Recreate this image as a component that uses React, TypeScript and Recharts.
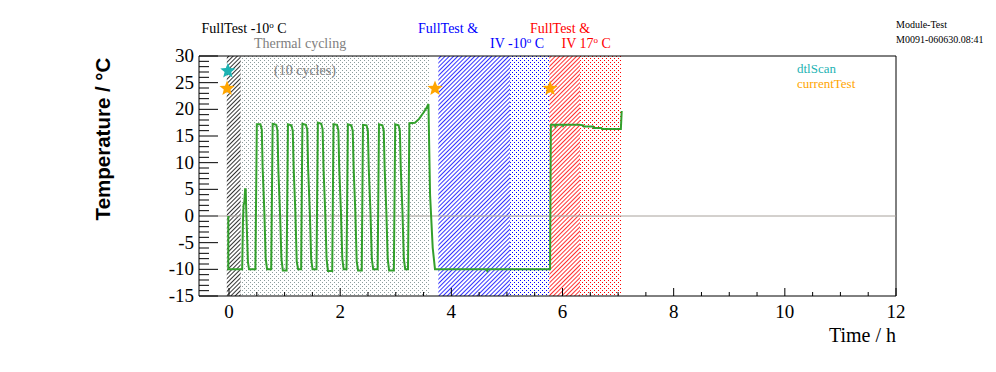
import { ComposedChart, Line, Scatter, XAxis, YAxis, ReferenceArea, ReferenceLine } from "recharts"

// temperature trace, time in hours
const timeH = [
  -0.013, -0.013, 0.237, 0.25, 0.262, 0.275, 0.29, 0.30, 0.31, 0.34, 0.36,
  0.475, 0.50, 0.565, 0.59, 0.605, 0.635, 0.66, 0.685,
  0.759, 0.785, 0.85, 0.872, 0.888, 0.918, 0.943, 0.968,
  1.036, 1.06, 1.122, 1.147, 1.163, 1.193, 1.218, 1.243,
  1.298, 1.32, 1.383, 1.408, 1.423, 1.453, 1.478, 1.503,
  1.574, 1.598, 1.66, 1.684, 1.70, 1.73, 1.755, 1.78,
  1.857, 1.88, 1.943, 1.968, 1.983, 2.013, 2.038, 2.063,
  2.114, 2.138, 2.20, 2.226, 2.242, 2.272, 2.297, 2.322,
  2.388, 2.41, 2.474, 2.498, 2.514, 2.544, 2.569, 2.594,
  2.674, 2.698, 2.76, 2.784, 2.80, 2.83, 2.855, 2.88,
  2.966, 2.99, 3.05, 3.074, 3.09, 3.12, 3.145, 3.17,
  3.22, 3.245, 3.345, 3.42, 3.50, 3.56, 3.588, 3.617, 3.665, 3.706,
  4.63, 4.645, 4.66, 5.776,
  5.79, 5.86, 5.87, 5.885, 6.0, 6.01, 6.025, 6.30, 6.37, 6.38, 6.55, 6.56, 6.70, 6.71, 7.05, 7.065,
]
const tempC = [
  0, -10, -10, -1.3, 2.1, 2.5, 5.0, 5.0, 1.1, -8.6, -10,
  -10, 17.2, 17.2, 16.2, 9, 1, -8, -10,
  -10, 17.3, 17.1, 16.0, 8.5, 0.5, -8, -10.2,
  -10.2, 17.2, 17.0, 16, 9, 1, -8.5, -10,
  -10, 17.3, 17.1, 16.2, 9, 1, -8, -10,
  -10, 17.5, 17.3, 16.3, 9, 1, -8, -10.3,
  -10.3, 17.2, 17.1, 16, 9, 1, -8, -10,
  -10, 17.2, 17.0, 16, 9, 1, -8.5, -10.2,
  -10.2, 17.1, 17.0, 16, 9, 1, -8, -10,
  -10, 17.2, 17.0, 16, 9, 1, -8, -10.2,
  -10.2, 17.2, 17.0, 16, 9, 1, -8, -10,
  -10, 17.4, 17.5, 18.2, 19.4, 20.4, 21.0, 4, -6, -10,
  -10, -10.3, -10, -10,
  17.1, 17.1, 16.8, 17.1, 17.1, 16.9, 17.1, 17.1, 17.0, 16.8, 16.8, 16.5, 16.5, 16.3, 16.3, 19.7,
]

const dtlScanT = [-0.02]
const dtlScanY = [27.2]
const currentTestT = [-0.035, 3.706, 5.776]
const currentTestY = [23.9, 23.9, 23.9]

// test phases (hours)
const phaseStart = [-0.04, 0.21, 3.766, 5.056, 5.763, 6.315]
const phaseEnd = [0.21, 3.6, 5.056, 5.763, 6.315, 7.053]
const phasePattern = ["hatchK", "dotsK", "hatchB", "dotsB", "hatchR", "dotsR"]

const xTicks = [0, 0.5, 1, 1.5, 2, 2.5, 3, 3.5, 4, 4.5, 5, 5.5, 6, 6.5, 7, 7.5, 8, 8.5, 9, 9.5, 10, 10.5, 11, 11.5, 12]
const yTicks = [
  -15, -14, -13, -12, -11, -10, -9, -8, -7, -6, -5, -4, -3, -2, -1, 0, 1, 2, 3, 4, 5, 6, 7, 8, 9, 10,
  11, 12, 13, 14, 15, 16, 17, 18, 19, 20, 21, 22, 23, 24, 25, 26, 27, 28, 29, 30,
]

const trace = timeH.map((t, i) => ({ t, temp: tempC[i] }))
const dtlScan = dtlScanT.map((t, i) => ({ t, temp: dtlScanY[i] }))
const currentTest = currentTestT.map((t, i) => ({ t, temp: currentTestY[i] }))

const serif = "'Liberation Serif', 'Times New Roman', serif"
const CYAN = "#1db3b3"
const ORANGE = "#ffa500"

const star = (color: string) => (props: any) => {
  const { cx, cy } = props
  const pts: string[] = []
  for (let i = 0; i < 10; i++) {
    const r = i % 2 === 0 ? 8 : 3.5
    const a = -Math.PI / 2 + (i * Math.PI) / 5
    pts.push(`${cx + r * Math.cos(a)},${cy + r * Math.sin(a)}`)
  }
  return <polygon points={pts.join(" ")} fill={color} />
}

const renderXTick = (props: any) => {
  const { x, y, payload } = props
  const v = payload.value
  const major = v % 2 === 0
  return (
    <g key={`xt-${v}`}>
      <line x1={x} x2={x} y1={y} y2={y - (major ? 8 : 4)} stroke="#000" />
      {major && (
        <text x={x} y={y + 22} textAnchor="middle" fontSize={19} fontFamily={serif} fill="#000">
          {v}
        </text>
      )}
    </g>
  )
}

const renderYTick = (props: any) => {
  const { x, y, payload } = props
  const v = payload.value
  const major = v % 5 === 0
  return (
    <g key={`yt-${v}`}>
      <line x1={x} x2={x + (major ? 19 : 10)} y1={y} y2={y} stroke="#000" />
      {major && (
        <text x={x - 5} y={y + 6} textAnchor="end" fontSize={19} fontFamily={serif} fill="#000">
          {v}
        </text>
      )}
    </g>
  )
}

const Sup = ({ children }: { children: string }) => (
  <>
    <tspan dy={-5} fontSize={9}>o</tspan>
    <tspan dy={5}>{children}</tspan>
  </>
)

// diagonal stripes made from filled rects
const Hatch = ({ id, color }: { id: string; color: string }) => (
  <pattern id={id} patternUnits="userSpaceOnUse" width={3} height={3} patternTransform="rotate(45)">
    <rect x={0} y={0} width={0.8} height={3} fill={color} />
  </pattern>
)

const Dots = ({ id, color }: { id: string; color: string }) => (
  <pattern id={id} patternUnits="userSpaceOnUse" width={4} height={4}>
    <rect x={0} y={0} width={1} height={1} fill={color} />
    <rect x={2} y={2} width={1} height={1} fill={color} />
  </pattern>
)

export default function App() {
  return (
    <div style={{ position: "relative", width: 996, height: 372, background: "#fff" }}>
      <style>{`body{margin:0}`}</style>
      <svg width={10} height={10} style={{ position: "absolute", left: 0, top: 0 }}>
        <defs>
          <Hatch id="hatchK" color="#000000" />
          <Hatch id="hatchB" color="#0000ff" />
          <Hatch id="hatchR" color="#ff0000" />
          <Dots id="dotsK" color="#8c9c9c" />
          <Dots id="dotsB" color="#0000ff" />
          <Dots id="dotsR" color="#ff0000" />
        </defs>
      </svg>

      <ComposedChart
        width={996}
        height={372}
        margin={{ top: 56, right: 100, bottom: 46, left: 169 }}
        style={{ position: "absolute", left: 0, top: 0 }}
      >
        <XAxis
          dataKey="t"
          type="number"
          domain={[-0.54, 12]}
          allowDataOverflow
          ticks={xTicks}
          interval={0}
          height={30}
          tickSize={0}
          tickMargin={0}
          axisLine={false}
          tickLine={false}
          tick={renderXTick}
        />
        <YAxis
          type="number"
          domain={[-15, 30]}
          allowDataOverflow
          ticks={yTicks}
          interval={0}
          width={30}
          tickSize={0}
          tickMargin={0}
          axisLine={false}
          tickLine={false}
          tick={renderYTick}
        />
        <ReferenceLine
          segment={[{ x: -0.2, y: 0 }, { x: 12, y: 0 }]}
          stroke="#a8a29c"
          strokeWidth={1}
        />
        {phaseStart.map((s, i) => (
          <ReferenceArea
            key={phasePattern[i]}
            x1={s}
            x2={phaseEnd[i]}
            fill={`url(#${phasePattern[i]})`}
            fillOpacity={1}
            stroke="none"
          />
        ))}
        <Line
          data={trace}
          dataKey="temp"
          type="linear"
          stroke="#33a02c"
          strokeWidth={2}
          dot={false}
          isAnimationActive={false}
        />
        <Scatter data={dtlScan} dataKey="temp" shape={star(CYAN)} isAnimationActive={false} />
        <Scatter data={currentTest} dataKey="temp" shape={star(ORANGE)} isAnimationActive={false} />
        <ReferenceArea x1={-0.54} x2={12} y1={-15} y2={30} fill="none" stroke="#000" strokeWidth={1} />
      </ComposedChart>

      <svg
        width={996}
        height={372}
        style={{ position: "absolute", left: 0, top: 0, pointerEvents: "none" }}
        fontFamily={serif}
      >
        <text x={201.5} y={33} fontSize={14} fill="#000">
          FullTest -10<Sup> C</Sup>
        </text>
        <text x={254} y={47.5} fontSize={14} fill="#808080">Thermal cycling</text>
        <text x={274} y={74.5} fontSize={14} fill="#808080">(10 cycles)</text>
        <text x={418} y={33} fontSize={14} fill="#0000ff">FullTest &amp;</text>
        <text x={490} y={47.5} fontSize={14} fill="#0000ff">
          IV -10<Sup> C</Sup>
        </text>
        <text x={530} y={33} fontSize={14} fill="#ff0000">FullTest &amp;</text>
        <text x={561.5} y={47.5} fontSize={14} fill="#ff0000">
          IV 17<Sup> C</Sup>
        </text>
        <text x={896} y={28} fontSize={10} fill="#000">Module-Test</text>
        <text x={896} y={43} fontSize={10} fill="#000">M0091-060630.08:41</text>
        <text x={797} y={72.5} fontSize={13} fill={CYAN}>dtlScan</text>
        <text x={797} y={88} fontSize={13} fill={ORANGE}>currentTest</text>
        <text x={896} y={342} fontSize={20} textAnchor="end" fill="#000">Time / h</text>
        <text
          x={109.5}
          y={139}
          transform="rotate(-90 109.5 139)"
          textAnchor="middle"
          fontSize={20.5}
          fontWeight="bold"
          fontFamily="'Liberation Sans', Arial, sans-serif"
          fill="#000"
        >
          Temperature / °C
        </text>
      </svg>
    </div>
  )
}
